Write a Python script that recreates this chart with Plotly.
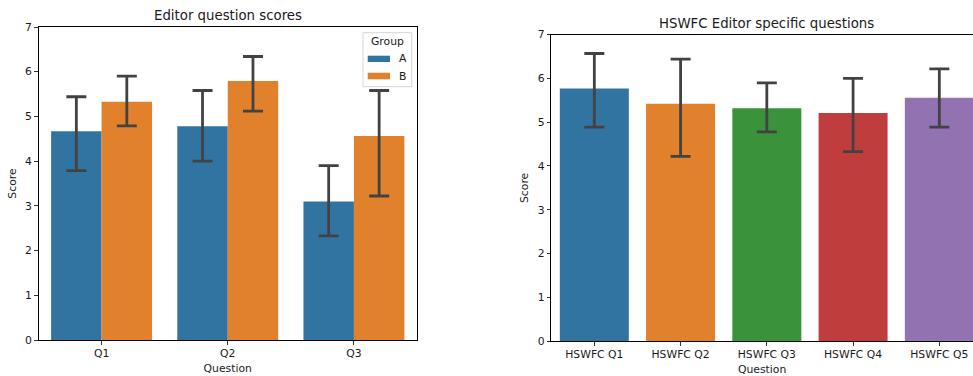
import plotly.graph_objects as go

# ---- data ----
left_categories = ["Q1", "Q2", "Q3"]
group_names = ["A", "B"]
group_a_mean = [4.67, 4.78, 3.10]
group_a_low = [3.79, 4.00, 2.33]
group_a_high = [5.44, 5.58, 3.90]
group_b_mean = [5.33, 5.79, 4.56]
group_b_low = [4.79, 5.12, 3.22]
group_b_high = [5.90, 6.34, 5.58]

right_categories = ["HSWFC Q1", "HSWFC Q2", "HSWFC Q3", "HSWFC Q4", "HSWFC Q5"]
right_mean = [5.77, 5.42, 5.32, 5.21, 5.56]
right_low = [4.89, 4.22, 4.78, 4.33, 4.89]
right_high = [6.57, 6.44, 5.90, 6.00, 6.22]

palette = ["#3274a1", "#e1812c", "#3a923a", "#c03d3e", "#9372b2"]
ERR_COLOR = "#424242"
FONT = "DejaVu Sans"
TXT = "#1a1a1a"

W, H = 973, 376


def err(mean, low, high):
    return dict(type="data", symmetric=False,
                array=[h - m for h, m in zip(high, mean)],
                arrayminus=[m - l for m, l in zip(mean, low)],
                color=ERR_COLOR, thickness=2.8, width=10)


fig = go.Figure()
fig.add_trace(go.Bar(x=left_categories, y=group_a_mean, name=group_names[0],
                     marker=dict(color=palette[0], line=dict(width=0)),
                     error_y=err(group_a_mean, group_a_low, group_a_high),
                     showlegend=False, xaxis="x", yaxis="y"))
fig.add_trace(go.Bar(x=left_categories, y=group_b_mean, name=group_names[1],
                     marker=dict(color=palette[1], line=dict(width=0)),
                     error_y=err(group_b_mean, group_b_low, group_b_high),
                     showlegend=False, xaxis="x", yaxis="y"))
fig.add_trace(go.Bar(x=right_categories, y=right_mean, showlegend=False,
                     marker=dict(color=palette, line=dict(width=0)),
                     width=0.8, offsetgroup="r",
                     error_y=err(right_mean, right_low, right_high),
                     xaxis="x2", yaxis="y2"))

axis_common = dict(showline=True, linecolor="black", linewidth=1, mirror=True,
                   ticks="outside", ticklen=3.5, tickwidth=0.8, tickcolor="black",
                   showgrid=False, zeroline=False, automargin=False,
                   tickfont=dict(family=FONT, size=10.8, color=TXT))

# pixel geometry
lx0, lx1, ly0, ly1 = 38.5, 417, 27, 340
rx0, ry0, ry1 = 551.2, 34.7, 341
r_unit = 86.25
r_max = (W - rx0) / r_unit - 0.5

fig.update_layout(
    width=W, height=H,
    margin=dict(l=0, r=0, t=0, b=0),
    paper_bgcolor="white", plot_bgcolor="white",
    barmode="group", bargap=0.2, bargroupgap=0,
    showlegend=False,
    font=dict(family=FONT, color=TXT),
    xaxis=dict(axis_common, domain=[lx0 / W, lx1 / W], range=[-0.5, 2.5],
               title=dict(text="Question", font=dict(size=10.8), standoff=4)),
    yaxis=dict(axis_common, domain=[1 - ly1 / H, 1 - ly0 / H], range=[0, 7],
               dtick=1, title=dict(text="Score", font=dict(size=10.8), standoff=6)),
    xaxis2=dict(axis_common, domain=[rx0 / W, 1], range=[-0.5, r_max],
                anchor="y2",
                title=dict(text="Question", font=dict(size=10.8), standoff=4)),
    yaxis2=dict(axis_common, domain=[1 - ry1 / H, 1 - ry0 / H], range=[0, 7],
                dtick=1, anchor="x2", mirror=False,
                title=dict(text="Score", font=dict(size=10.8), standoff=6)),
)


def px(x):
    return x / W


def py(y):
    return 1 - y / H


shapes = [
    # legend frame
    dict(type="rect", xref="paper", yref="paper",
         x0=px(363), x1=px(411.7), y0=py(86.7), y1=py(32.7),
         line=dict(color="#d6d6d6", width=1), fillcolor="rgba(255,255,255,0.8)"),
    dict(type="rect", xref="paper", yref="paper",
         x0=px(367.7), x1=px(390), y0=py(62), y1=py(55.7),
         line=dict(width=0), fillcolor=palette[0]),
    dict(type="rect", xref="paper", yref="paper",
         x0=px(367.7), x1=px(390), y0=py(79.3), y1=py(72.7),
         line=dict(width=0), fillcolor=palette[1]),
]

annotations = [
    dict(text="Editor question scores", x=px((lx0 + lx1) / 2), y=py(16),
         font=dict(size=13.3, family=FONT, color=TXT)),
    dict(text="HSWFC Editor specific questions", x=px(rx0 + 2.5 * r_unit), y=py(24),
         font=dict(size=13.3, family=FONT, color=TXT)),
    dict(text="Group", x=px(387.3), y=py(41.7),
         font=dict(size=10.8, family=FONT, color=TXT)),
    dict(text=group_names[0], x=px(402.7), y=py(58.7),
         font=dict(size=10.8, family=FONT, color=TXT)),
    dict(text=group_names[1], x=px(402.7), y=py(76),
         font=dict(size=10.8, family=FONT, color=TXT)),
]
for a in annotations:
    a.update(xref="paper", yref="paper", showarrow=False,
             xanchor="center", yanchor="middle")

fig.update_layout(shapes=shapes, annotations=annotations)

fig.write_html("out.html",
               config={"displayModeBar": False, "staticPlot": True},
               post_script="document.body.style.margin='0';"
                           "document.body.style.overflow='hidden';")
